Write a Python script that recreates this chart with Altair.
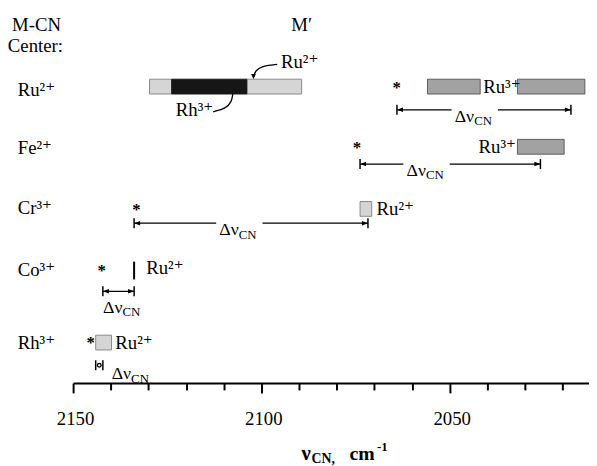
import altair as alt
import pandas as pd

# ---------------- data (wavenumbers in cm^-1) ----------------
rows = ["Ru²⁺", "Fe²⁺", "Cr³⁺", "Co³⁺", "Rh³⁺"]            # M-CN centres
star_nu = [2064.1, 2074.6, 2133.2, 2142.4, 2145.3]            # "*" bands
dnu_hi = [2064.0, 2073.8, 2133.8, 2142.1, 2144.0]             # Δν bracket, high end
dnu_lo = [2017.8, 2025.9, 2071.7, 2133.8, 2142.1]             # Δν bracket, low end

band_row = ["Ru²⁺", "Ru²⁺", "Ru²⁺", "Ru²⁺", "Ru²⁺", "Fe²⁺", "Cr³⁺", "Rh³⁺"]
band_metal = ["Ru²⁺", "Rh³⁺", "Ru²⁺", "Ru³⁺", "Ru³⁺", "Ru³⁺", "Ru²⁺", "Ru²⁺"]
band_hi = [2129.7, 2123.8, 2103.7, 2055.9, 2032.0, 2032.0, 2073.8, 2144.0]
band_lo = [2123.8, 2103.7, 2089.3, 2041.9, 2014.1, 2019.6, 2070.7, 2139.8]

sharp_row = ["Co³⁺"]
sharp_nu = [2133.8]

mprime_text = ["Ru³⁺", "Ru³⁺", "Ru²⁺", "Ru²⁺", "Ru²⁺"]

x_ticks = list(range(2150, 2010, -10))
x_domain = [2150, 2013]

# ---------------- layout (vertical levels in px from top of plot, label anchors) ----------------
W, H = 523, 377
FONT = "Liberation Serif, Times New Roman, DejaVu Serif, serif"
row_y = dict(zip(rows, [76.5, 137.5, 200.5, 263, 336]))
row_label_y = [80, 139, 200, 262, 337]
bracket_y = dict(zip(rows, [100, 155, 215, 284, 359]))
delta_y = [106, 161, 221, 300, 367]
delta_nu = [2043.5, 2056.3, 2106.0, 2136.9, 2134.6]
delta_gap = [True, True, True, False, False]
mprime_nu = [2041.1, 2032.4, 2069.4, 2130.6, 2138.8]
mprime_align = ["left", "right", "left", "left", "left"]
mprime_y = [76.5, 137.5, 200.5, 260, 337]
row_label_nu = 2164.7

xs = alt.Scale(domain=x_domain, nice=False, zero=False)
ys = alt.Scale(domain=[0, H], reverse=True, nice=False, zero=False)
xaxis = alt.Axis(
    values=x_ticks,
    labelExpr="datum.value % 50 === 0 ? datum.label : ''",
    format="d",
    tickSize={"condition": {"test": "datum.value % 50 === 0", "value": 10}, "value": 7},
    tickWidth=2, tickColor="black",
    domainWidth=2, domainColor="black",
    labelFont=FONT, labelFontSize=19, labelColor="black",
    labelPadding=17, labelFlush=False, labelOffset=2,
    grid=False, title=None,
)


def X(f):
    return alt.X(f"{f}:Q", scale=xs, axis=xaxis)


def Y(f):
    return alt.Y(f"{f}:Q", scale=ys, axis=None)


def text_layer(df, align="center", weight="normal"):
    return alt.Chart(df).mark_text(
        font=FONT, align=align, baseline="alphabetic", fontWeight=weight, color="black"
    ).encode(x=X("nu"), y=Y("yb"), text="t:N", size=alt.Size("fs:Q", scale=None, legend=None))


layers = []

# bands
bands = pd.DataFrame({"row": band_row, "metal": band_metal, "hi": band_hi, "lo": band_lo})
bands["yc"] = bands["row"].map(row_y)
layers.append(
    alt.Chart(bands).transform_calculate(y1="datum.yc - 7.5", y2="datum.yc + 7.5")
    .mark_rect(strokeWidth=1)
    .encode(
        x=X("hi"), x2="lo", y=Y("y1"), y2="y2",
        fill=alt.Fill("metal:N", legend=None,
                      scale=alt.Scale(domain=["Ru²⁺", "Rh³⁺", "Ru³⁺"], range=["#d5d5d5", "#161616", "#a2a2a2"])),
        stroke=alt.Stroke("metal:N", legend=None,
                          scale=alt.Scale(domain=["Ru²⁺", "Rh³⁺", "Ru³⁺"], range=["#8a8a8a", "#161616", "#5c5c5c"])),
    )
)

# sharp Ru2+ band (Co row)
sharp = pd.DataFrame({"row": sharp_row, "nu": sharp_nu})
sharp["yc"] = sharp["row"].map(row_y)
layers.append(
    alt.Chart(sharp).transform_calculate(y1="datum.yc - 9", y2="datum.yc + 9")
    .mark_rule(strokeWidth=2, color="black")
    .encode(x=X("nu"), y=Y("y1"), y2="y2")
)

# stars
stars = pd.DataFrame({"row": rows, "nu": star_nu})
stars["yc"] = stars["row"].map(row_y)
layers.append(
    alt.Chart(stars).mark_text(text="*", font=FONT, fontSize=17, fontWeight="bold",
                               baseline="alphabetic", dy=6, color="black")
    .encode(x=X("nu"), y=Y("yc"))
)

# bracket lines (broken around the label where it overlaps)
segs = []
for r, hi, lo, jx, gap in zip(rows, dnu_hi, dnu_lo, delta_nu, delta_gap):
    yb = bracket_y[r]
    if gap:
        segs.append({"a": hi, "b": jx + 6.0, "yb": yb})
        segs.append({"a": jx - 6.3, "b": lo, "yb": yb})
    elif hi - lo > 4:
        segs.append({"a": hi, "b": lo, "yb": yb})
layers.append(
    alt.Chart(pd.DataFrame(segs)).mark_rule(strokeWidth=1.3, color="black")
    .encode(x=X("a"), x2="b", y=Y("yb"))
)

ends = pd.DataFrame({"nu": dnu_hi + dnu_lo, "row": rows + rows})
ends["yb"] = ends["row"].map(bracket_y)
layers.append(
    alt.Chart(ends).transform_calculate(y1="datum.yb - 5", y2="datum.yb + 5")
    .mark_rule(strokeWidth=1.5, color="black")
    .encode(x=X("nu"), y=Y("y1"), y2="y2")
)

arrow_rows = [i for i in range(len(rows)) if dnu_hi[i] - dnu_lo[i] > 4]
left_tips = pd.DataFrame({"nu": [dnu_hi[i] for i in arrow_rows], "yb": [bracket_y[rows[i]] for i in arrow_rows]})
right_tips = pd.DataFrame({"nu": [dnu_lo[i] for i in arrow_rows], "yb": [bracket_y[rows[i]] for i in arrow_rows]})
layers.append(
    alt.Chart(left_tips).mark_point(shape="M0,0L1,-0.38L1,0.38Z", size=150, filled=True,
                                    color="black", opacity=1)
    .encode(x=X("nu"), y=Y("yb"))
)
layers.append(
    alt.Chart(right_tips).mark_point(shape="M0,0L-1,-0.38L-1,0.38Z", size=150, filled=True,
                                     color="black", opacity=1)
    .encode(x=X("nu"), y=Y("yb"))
)
small = [i for i in range(len(rows)) if dnu_hi[i] - dnu_lo[i] <= 4]
dots = pd.DataFrame({"nu": [(dnu_hi[i] + dnu_lo[i]) / 2 for i in small],
                     "yb": [bracket_y[rows[i]] for i in small]})
layers.append(
    alt.Chart(dots).mark_point(shape="circle", size=14, filled=False, strokeWidth=1.3,
                               color="black", opacity=1)
    .encode(x=X("nu"), y=Y("yb"))
)

# Δν_CN labels
layers.append(text_layer(pd.DataFrame({"t": ["Δν"] * 5, "nu": delta_nu,
                                       "yb": [v + 6 for v in delta_y], "fs": [18] * 5}), align="right"))
layers.append(text_layer(pd.DataFrame({"t": ["CN"] * 5, "nu": delta_nu,
                                       "yb": [v + 9.5 for v in delta_y], "fs": [13] * 5}), align="left"))

# M' labels next to the bands
mp = pd.DataFrame({"t": mprime_text, "nu": mprime_nu, "yb": [v + 6 for v in mprime_y],
                   "fs": [19] * 5, "al": mprime_align})
layers.append(text_layer(mp[mp.al == "left"], align="left"))
layers.append(text_layer(mp[mp.al == "right"], align="right"))

# row labels (M-CN centres)
layers.append(text_layer(pd.DataFrame({"t": rows, "nu": [row_label_nu] * 5,
                                       "yb": [v + 6 for v in row_label_y], "fs": [19] * 5}), align="left"))

# headers
layers.append(text_layer(pd.DataFrame({"t": ["M-CN", "Center:", "M′"], "nu": [2159.7, 2160.0, 2089.3],
                                       "yb": [20, 41, 20], "fs": [19, 19, 19]})))

# callouts on the Ru2+ row
layers.append(text_layer(pd.DataFrame({"t": ["Ru²⁺"], "nu": [2094.8], "yb": [58], "fs": [19]}), align="left"))
layers.append(text_layer(pd.DataFrame({"t": ["Rh³⁺"], "nu": [2112.8], "yb": [106], "fs": [19]}), align="right"))
curves = pd.DataFrame({
    "id": ["a"] * 4 + ["b"] * 4,
    "i": [0, 1, 2, 3] * 2,
    "nu": [2095.8, 2099.7, 2101.6, 2102.1, 2112.8, 2109.4, 2107.9, 2107.6],
    "y": [54, 55.5, 60, 67, 102, 98.5, 92, 84],
})
layers.append(
    alt.Chart(curves).mark_line(interpolate="basis", strokeWidth=1.3, color="black")
    .encode(x=X("nu"), y=Y("y"), detail="id:N", order="i:Q")
)
layers.append(
    alt.Chart(pd.DataFrame({"nu": [2102.1], "y": [69]}))
    .mark_point(shape="M0,0L-0.45,-1L0.45,-1Z", size=110, filled=True, color="black", opacity=1)
    .encode(x=X("nu"), y=Y("y"))
)

# axis title: ν_CN, cm^-1
layers.append(text_layer(pd.DataFrame({"t": ["ν"], "nu": [2086.9], "yb": [455], "fs": [21]}),
                         align="right", weight="bold"))
layers.append(text_layer(pd.DataFrame({"t": ["CN,", "cm", "-1"], "nu": [2086.7, 2076.6, 2069.3],
                                       "yb": [458, 455, 446], "fs": [14, 20, 13]}),
                         align="left", weight="bold"))

chart = (
    alt.layer(*layers)
    .properties(width=W, height=H, autosize=alt.AutoSizeParams(type="none"),
                padding={"left": 66, "top": 0, "right": 0, "bottom": 86})
    .configure_view(stroke=None)
)

chart.save("out.html", embed_options={"renderer": "svg", "actions": False})
